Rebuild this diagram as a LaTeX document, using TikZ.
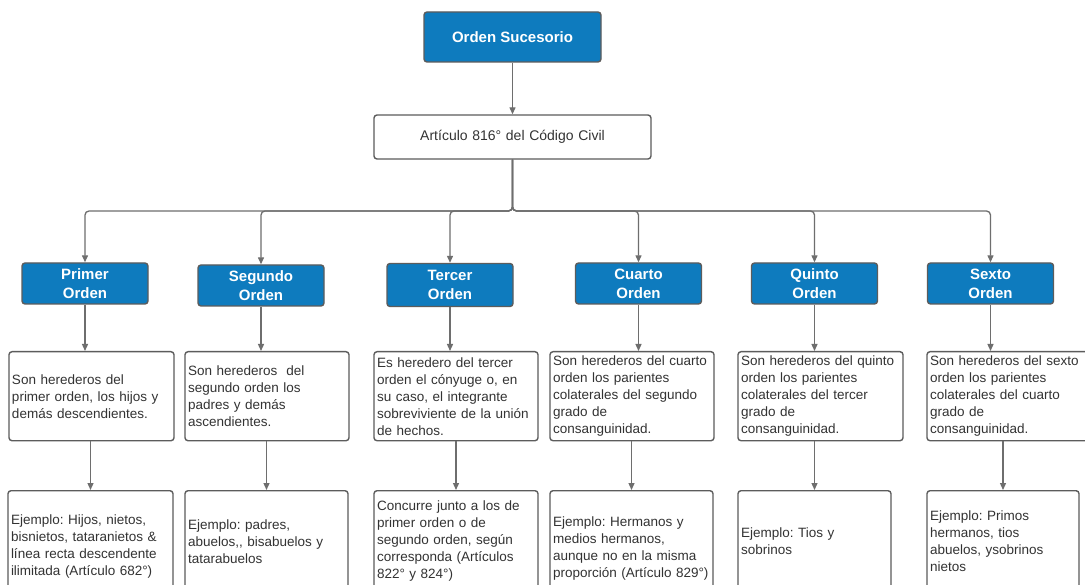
\documentclass[tikz,border=0pt]{standalone}
\usepackage{fontspec}
\setmainfont{Liberation Sans}
\usetikzlibrary{arrows.meta}
\definecolor{lblue}{HTML}{0E7BBE}
\definecolor{edgecol}{HTML}{5C5C5C}
\definecolor{conncol}{HTML}{6E6E6E}
\definecolor{txtcol}{HTML}{333333}
\frenchspacing
\begin{document}
\begin{tikzpicture}[x=1pt,y=-1pt,
  bluebox/.style={draw=edgecol, line width=1.4pt, fill=lblue, rounded corners=3pt, text=white,
    font=\fontsize{15}{19}\selectfont\bfseries, align=center, inner sep=0pt},
  whitebox/.style={draw=edgecol, line width=1.4pt, fill=white, rounded corners=3pt, text=txtcol,
    font=\fontsize{13.5}{17}\selectfont, align=left, inner xsep=3pt, inner ysep=0pt},
  arr/.style={draw=conncol, line width=1.3pt, -{Triangle[length=7pt,width=6pt]}},
]
\useasboundingbox (0,0) rectangle (1085,585);
\clip (0,0) rectangle (1085,585);
\fill[white] (0,0) rectangle (1085,585);

% top
\node[bluebox, minimum width=177pt, minimum height=50pt] (os) at (512.5,37) {Orden Sucesorio};
\node[whitebox, align=center, text width=271pt, minimum height=44pt, font=\fontsize{14}{17}\selectfont] (art) at (512.5,137) {Artículo 816° del Código Civil};

% level boxes
\node[bluebox, minimum width=126pt, minimum height=41pt] (p1) at (85,283.5) {Primer\\Orden};
\node[bluebox, minimum width=126pt, minimum height=41pt] (p2) at (261,285.5) {Segundo\\Orden};
\node[bluebox, minimum width=126pt, minimum height=43pt] (p3) at (450,285) {Tercer\\Orden};
\node[bluebox, minimum width=126pt, minimum height=41pt] (p4) at (638.5,283.5) {Cuarto\\Orden};
\node[bluebox, minimum width=126pt, minimum height=41pt] (p5) at (814.5,283.5) {Quinto\\Orden};
\node[bluebox, minimum width=126pt, minimum height=41pt] (p6) at (990.5,283.5) {Sexto\\Orden};

% middle boxes
\node[whitebox, anchor=north, text width=159pt, minimum height=89pt] (m1) at (91.5,351)
  {Son herederos del\\primer orden, los hijos y\\demás descendientes.};
\node[whitebox, anchor=north, text width=158pt, minimum height=89pt] (m2) at (267,351)
  {Son herederos\ \ del\\segundo orden los\\padres y demás\\ascendientes.};
\node[whitebox, anchor=north, text width=158pt, minimum height=89pt] (m3) at (456,351)
  {Es heredero del tercer\\orden el cónyuge o, en\\su caso, el integrante\\sobreviviente de la unión\\de hechos.};
\node[whitebox, anchor=north, text width=158pt, minimum height=89pt] (m4) at (632,351)
  {Son herederos del cuarto\\orden los parientes\\colaterales del segundo\\grado de\\consanguinidad.};
\node[whitebox, anchor=north, text width=159pt, minimum height=89pt] (m5) at (820.5,351)
  {Son herederos del quinto\\orden los parientes\\colaterales del tercer\\grado de\\consanguinidad.};
\node[whitebox, anchor=north, text width=158pt, minimum height=89pt] (m6) at (1009,351)
  {Son herederos del sexto\\orden los parientes\\colaterales del cuarto\\grado de\\consanguinidad.};

% bottom boxes
\node[whitebox, anchor=north, text width=159pt, minimum height=111pt] (b1) at (90.5,490)
  {Ejemplo: Hijos, nietos,\\bisnietos, tataranietos \&\\línea recta descendente\\ilimitada (Artículo 682°)};
\node[whitebox, anchor=north, text width=157pt, minimum height=102pt] (b2) at (266.5,490)
  {Ejemplo: padres,\\abuelos,{}, bisabuelos y\\tatarabuelos};
\node[whitebox, anchor=north, text width=158pt, minimum height=100pt] (b3) at (456,490)
  {Concurre junto a los de\\primer orden o de\\segundo orden, según\\corresponda (Artículos\\822° y 824°)};
\node[whitebox, anchor=north, text width=157pt, minimum height=116pt] (b4) at (631.5,490)
  {Ejemplo: Hermanos y\\medios hermanos,\\aunque no en la misma\\proporción (Artículo 829°)};
\node[whitebox, anchor=north, text width=147pt, minimum height=100pt] (b5) at (814.5,490)
  {Ejemplo: Tios y\\sobrinos};
\node[whitebox, anchor=north, text width=146pt, minimum height=100pt] (b6) at (1003,490)
  {Ejemplo: Primos\\hermanos, tios\\abuelos, ysobrinos\\nietos};

% connectors
\coordinate (J) at (512.5,211);
\draw[arr] (os.south) -- (art.north);
\foreach \n in {p1,p2,p3,p4,p5,p6}{
  \draw[arr, rounded corners=4pt] (art.south) -- (J) -| (\n.north);
}
\foreach \i in {1,...,6}{
  \draw[arr] (p\i.south) -- (p\i.south |- m\i.north);
  \draw[arr] (m\i.south -| b\i.north) -- (b\i.north);
}
\end{tikzpicture}
\end{document}
